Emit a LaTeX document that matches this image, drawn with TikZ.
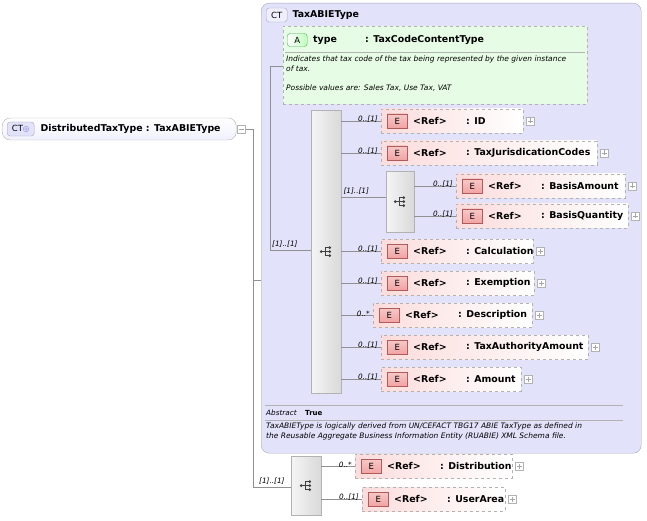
\documentclass[tikz,border=0pt]{standalone}
\usepackage{fontspec}
\setmainfont{DejaVu Sans}
\usetikzlibrary{positioning}
\definecolor{ctfill}{HTML}{E2E2FA}
\definecolor{ctline}{HTML}{A8A8B8}
\definecolor{elfill}{HTML}{FCDCDC}
\definecolor{badgefill}{HTML}{F2A4A4}
\definecolor{badgeline}{HTML}{B05A5A}
\definecolor{attfill}{HTML}{E6FCE4}
\definecolor{wire}{HTML}{909090}
\begin{document}
\begin{tikzpicture}[
    x=1pt, y=-1pt,
    lbl/.style={font=\fontsize{9.4}{11}\selectfont\bfseries, inner sep=0pt, anchor=west},
    card/.style={font=\fontsize{7.3}{8}\selectfont\itshape, inner sep=0pt},
    note/.style={font=\fontsize{7.5}{10}\selectfont\itshape, inner sep=0pt, anchor=north west, align=left},
    conn/.style={draw=wire, line width=0.6pt},
    elem/.style={draw=gray!60, dashed, left color=elfill, right color=white,
        minimum height=24pt, inner sep=0pt, anchor=west},
    ebadge/.style={draw=badgeline, top color=badgefill!60, bottom color=badgefill,
        minimum width=20pt, minimum height=14pt, inner sep=0pt,
        font=\fontsize{8.5}{9}\selectfont},
    seqbox/.style={draw=gray!60, left color=gray!8, right color=gray!30,
        inner sep=0pt, anchor=north west},
    expander/.style={draw=gray!60, fill=white, minimum size=8pt, inner sep=0pt, path picture={
        \draw[gray!70] ([xshift=-2.5pt]path picture bounding box.center) -- ++(5pt,0)
            ([yshift=-2.5pt]path picture bounding box.center) -- ++(0,5pt);}},
    collapser/.style={draw=gray!60, fill=white, minimum size=8pt, inner sep=0pt, path picture={
        \draw[gray!70] ([xshift=-2.5pt]path picture bounding box.center) -- ++(5pt,0);}}
]
\useasboundingbox (0,0) rectangle (647,521);

% Root type
\node[draw=gray!60, rounded corners=8pt, top color=white, bottom color=ctfill!80!blue!20,
    minimum width=234pt, minimum height=22pt, anchor=west] (root) at (2,129) {};
\node[draw=ctline, rounded corners=3pt, fill=ctfill, minimum width=27pt, minimum height=14pt,
    inner sep=0pt, font=\fontsize{8.5}{9}\selectfont, anchor=west] (rootbadge) at (7,129) {CT\textcolor{blue!50!gray}{$\oplus$}};
\node[lbl, right=6pt of rootbadge] (rootname) {DistributedTaxType : TaxABIEType};
\node[collapser, right=1pt of root] (rootx) {};

% Complex type box
\node[draw=ctline, rounded corners=8pt, fill=ctfill, minimum width=380pt, minimum height=450pt,
    anchor=north west, inner sep=0pt] (ct) at (261,3) {};
\node[draw=ctline, rounded corners=3pt, fill=ctfill!60!white, minimum width=21pt, minimum height=14pt,
    inner sep=0pt, font=\fontsize{8.5}{9}\selectfont, anchor=west] (ctbadge) at (266,15) {CT};
\node[lbl, right=5pt of ctbadge] (ctname) {TaxABIEType};

% Attribute
\node[draw=gray!60, dashed, fill=attfill, minimum width=304pt, minimum height=78pt,
    anchor=north west, inner sep=0pt] (att) at (283,26) {};
\node[draw=green!40!gray, rounded corners=3pt, left color=white, right color=green!25,
    minimum width=20pt, minimum height=13pt, inner sep=0pt, font=\fontsize{8.5}{9}\selectfont,
    anchor=west] (attbadge) at (287,40) {A};
\node[lbl] (attname) at (313,40) {type};
\node[lbl] (atttype) at (365,40) {: TaxCodeContentType};
\draw[gray!60] (285,52) -- (585,52);
\node[note] (attdoc) at (286,56) {Indicates that tax code of the tax being represented by the given instance\\of tax.\\[9pt]Possible values are: Sales Tax, Use Tax, VAT};

% Main sequence
\node[seqbox, minimum width=30pt, minimum height=283pt] (seq) at (311,110) {};
\node[seqbox, minimum width=28pt, minimum height=61pt] (seqb) at (386,171) {};
\node[seqbox, minimum width=30pt, minimum height=59pt] (seqc) at (291,456) {};

% Sequence symbols
\foreach \s in {seq, seqb, seqc}{
    \fill[black!75] ([xshift=-5pt]\s.center) circle (1.5pt);
    \draw[black!75, line width=0.7pt] ([xshift=-5pt]\s.center) -- ([xshift=-1pt]\s.center)
        ([xshift=-1pt,yshift=-4pt]\s.center) -- ([xshift=-1pt,yshift=4pt]\s.center);
    \foreach \d in {-4,0,4}{
        \draw[black!75, line width=0.7pt] ([xshift=-1pt,yshift=\d pt]\s.center) -- ++(4pt,0);
        \fill[black!75] ([xshift=3.5pt,yshift=\d pt]\s.center) circle (1.5pt);}
}

% Elements
\node[elem, minimum width=142pt] (id) at (381,121) {};
\node[elem, minimum width=216pt] (jur) at (381,153) {};
\node[elem, minimum width=169pt] (bamt) at (456,186) {};
\node[elem, minimum width=172pt] (bqty) at (456,216) {};
\node[elem, minimum width=152pt] (calc) at (381,251) {};
\node[elem, minimum width=153pt] (exem) at (381,283) {};
\node[elem, minimum width=159pt] (desc) at (373,315) {};
\node[elem, minimum width=207pt] (auth) at (381,347) {};
\node[elem, minimum width=140pt] (amt) at (381,379) {};
\node[elem, minimum width=157pt] (dist) at (355,466) {};
\node[elem, minimum width=143pt] (user) at (362,499) {};

% Element contents
\foreach \e/\n in {id/ID, jur/TaxJurisdicationCodes, bamt/BasisAmount, bqty/BasisQuantity,
    calc/Calculation, exem/Exemption, desc/Description, auth/TaxAuthorityAmount,
    amt/Amount, dist/Distribution, user/UserArea}{
    \node[ebadge, anchor=west] (\e E) at ([xshift=6pt]\e.west) {E};
    \node[lbl] (\e ref) at ([xshift=32pt]\e.west) {<Ref>};
    \node[lbl] (\e name) at ([xshift=85pt]\e.west) {: \n};
    \node[expander, right=3pt of \e] (\e x) {};
}

% Connectors
\draw[conn] (rootx) -- (253,129) coordinate (trunk) -- (253,487) coordinate (trunkend);
\draw[conn] (trunk |- 280,280) -- (ct.west |- 280,280);
\draw[conn] (270,66) coordinate (attjoin) -- (att.west |- attjoin);
\draw[conn] (attjoin) -- (270,250) coordinate (seqjoin) -- (seq.west |- seqjoin);
\node[card, above right=2pt and 2pt of seqjoin] {[1]..[1]};
\draw[conn] (trunkend) -- (seqc.west |- trunkend);
\node[card, above right=2pt and 6pt of trunkend] {[1]..[1]};
\draw[conn] (seq.east |- 0,197) coordinate (seqbjoin) -- (seqb.west |- seqbjoin);
\node[card, above right=2pt and 2pt of seqbjoin] {[1]..[1]};
\foreach \e/\c in {id/{0..[1]}, jur/{0..[1]}, calc/{0..[1]}, exem/{0..[1]}, desc/{0..*},
    auth/{0..[1]}, amt/{0..[1]}}{
    \draw[conn] (seq.east |- \e) -- (\e);
    \node[card, anchor=south east] at ([xshift=-3pt,yshift=-2pt]\e.west) {\c};
}
\foreach \e/\c in {bamt/{0..[1]}, bqty/{0..[1]}}{
    \draw[conn] (seqb.east |- \e) -- (\e);
    \node[card, anchor=south east] at ([xshift=-3pt,yshift=-2pt]\e.west) {\c};
}
\foreach \e/\c in {dist/{0..*}, user/{0..[1]}}{
    \draw[conn] (seqc.east |- \e) -- (\e);
    \node[card, anchor=south east] at ([xshift=-3pt,yshift=-2pt]\e.west) {\c};
}

% Properties
\draw[gray!60] (265,405) -- (623,405);
\node[card, anchor=west] (abs) at (266,413) {Abstract};
\node[font=\fontsize{7}{8}\selectfont\bfseries, inner sep=0pt, anchor=west, right=8pt of abs] (absval) {True};
\draw[gray!60] (265,420) -- (623,420);
\node[note] (ctdoc) at (266,423) {TaxABIEType is logically derived from UN/CEFACT TBG17 ABIE TaxType as defined in\\the Reusable Aggregate Business Information Entity (RUABIE) XML Schema file.};
\end{tikzpicture}
\end{document}
